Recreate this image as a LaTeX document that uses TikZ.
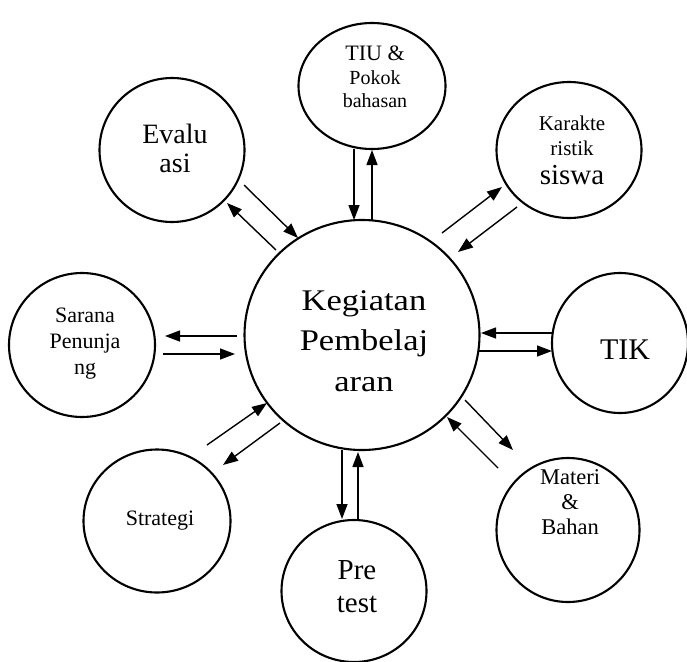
\documentclass[tikz,border=0pt]{standalone}
\usepackage{fontspec}
\setmainfont{Liberation Serif}
\newfontfamily\widefont[FakeStretch=1.15]{Liberation Serif}
\usetikzlibrary{shapes.geometric,arrows.meta}
\begin{document}
\begin{tikzpicture}[x=1pt,y=-1pt,
  bub/.style={draw,ellipse,line width=2.1pt,inner sep=0pt},
  lbl/.style={align=center,inner sep=0pt},
  arr/.style={line width=1.4pt,-{Triangle[length=15pt,width=11pt]}}]
\useasboundingbox (0,0) rectangle (687,661);
% bubbles
\node[bub,minimum width=235pt,minimum height=230pt] (kp) at (362,335) {};
\node[bub,minimum width=147pt,minimum height=126pt] (tiu) at (372,86) {};
\node[bub,minimum width=145pt,minimum height=144pt] (eva) at (172,150) {};
\node[bub,minimum width=145pt,minimum height=136pt] (kar) at (569,150) {};
\node[bub,minimum width=136pt,minimum height=140pt] (tik) at (620,343) {};
\node[bub,minimum width=146pt,minimum height=144pt] (sar) at (82,345) {};
\node[bub,minimum width=147pt,minimum height=143pt] (str) at (157,521) {};
\node[bub,minimum width=145pt,minimum height=142pt] (pre) at (354,591) {};
\node[bub,minimum width=143pt,minimum height=144pt] (mat) at (568,530) {};
% labels
\node[lbl,font=\widefont\fontsize{30}{40.5}\selectfont] (kpt) at (364,341) {Kegiatan\\Pembelaj\\aran};
\node[lbl,font=\fontsize{20}{23.5}\selectfont] (tiut) at (375,77) {{\fontsize{22}{23.5}\selectfont TIU \&}\\Pokok\\bahasan};
\node[lbl,font=\fontsize{28}{29}\selectfont] (evat) at (175,148) {Evalu\\asi};
\node[lbl,font=\fontsize{21}{25}\selectfont] (kart) at (572,150) {Karakte\\ristik\\[4pt]{\fontsize{29}{31}\selectfont siswa}};
\node[lbl,font=\fontsize{30}{32}\selectfont] (tikt) at (625,350) {TIK};
\node[lbl,font=\fontsize{22}{26}\selectfont] (sart) at (85,344) {Sarana\\Penunja\\ng};
\node[lbl,font=\fontsize{22}{26}\selectfont] (strt) at (160,521) {Strategi};
\node[lbl,font=\fontsize{29}{33}\selectfont] (pret) at (357,587) {Pre\\test};
\node[lbl,font=\fontsize{22.5}{25}\selectfont] (matt) at (570,502) {Materi\\\&\\Bahan};
% connector end points
\coordinate (e1a) at (244,185); \coordinate (e1b) at (298,238);
\coordinate (e2a) at (276,250); \coordinate (e2b) at (227,203);
\coordinate (t1a) at (354,149); \coordinate (t1b) at (354,220);
\coordinate (t2a) at (372,220); \coordinate (t2b) at (372,150);
\coordinate (k1a) at (442,233); \coordinate (k1b) at (502,187);
\coordinate (k2a) at (517,207); \coordinate (k2b) at (458,252);
\coordinate (i1a) at (552,333); \coordinate (i1b) at (481,333);
\coordinate (i2a) at (478,351); \coordinate (i2b) at (552,351);
\coordinate (s1a) at (237,336); \coordinate (s1b) at (165,336);
\coordinate (s2a) at (163,354); \coordinate (s2b) at (235,354);
\coordinate (g1a) at (207,445); \coordinate (g1b) at (267,403);
\coordinate (g2a) at (280,423); \coordinate (g2b) at (223,465);
\coordinate (p1a) at (342,450); \coordinate (p1b) at (342,519);
\coordinate (p2a) at (358,520); \coordinate (p2b) at (358,452);
\coordinate (m1a) at (465,400); \coordinate (m1b) at (513,450);
\coordinate (m2a) at (498,468); \coordinate (m2b) at (447,417);
% connectors
\draw[arr] (e1a) -- (e1b);
\draw[arr] (e2a) -- (e2b);
\draw[arr] (t1a) -- (t1b);
\draw[arr] (t2a) -- (t2b);
\draw[arr] (k1a) -- (k1b);
\draw[arr] (k2a) -- (k2b);
\draw[arr] (i1a) -- (i1b);
\draw[arr] (i2a) -- (i2b);
\draw[arr] (s1a) -- (s1b);
\draw[arr] (s2a) -- (s2b);
\draw[arr] (g1a) -- (g1b);
\draw[arr] (g2a) -- (g2b);
\draw[arr] (p1a) -- (p1b);
\draw[arr] (p2a) -- (p2b);
\draw[arr] (m1a) -- (m1b);
\draw[arr] (m2a) -- (m2b);
\end{tikzpicture}
\end{document}
